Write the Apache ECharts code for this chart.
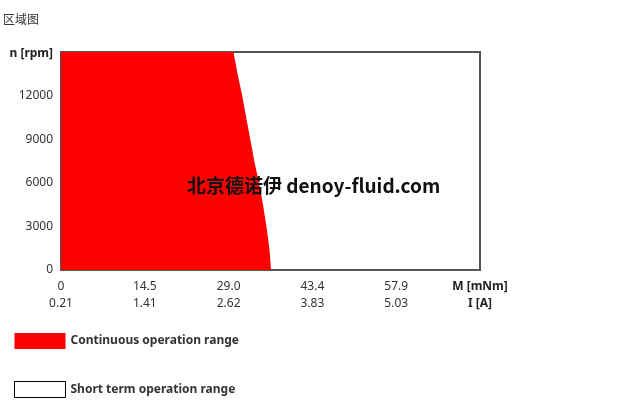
<!DOCTYPE html>
<html>
<head>
<meta charset="utf-8">
<script src="https://cdn.jsdelivr.net/npm/echarts@6/dist/echarts.min.js"></script>
<style>html,body{margin:0;padding:0;background:#fff}#c{width:627px;height:410px}</style>
</head>
<body>
<div id="c"></div>
<script>
// Data
var torqueTicks = ["0", "14.5", "29.0", "43.4", "57.9", "M [mNm]"];
var currentTicks = ["0.21", "1.41", "2.62", "3.83", "5.03", "I [A]"];
var speedTicks = ["0", "3000", "6000", "9000", "12000", "n [rpm]"];
// Continuous operation boundary: torque (mNm) vs speed (rpm)
var contTorque = [0, 29.8, 30.5, 31.3, 32.0, 32.7, 33.4, 34.2, 34.9, 35.5, 36.0, 36.3];
var contSpeed  = [15000, 15000, 13500, 12000, 10500, 9000, 7500, 6000, 4500, 3000, 1500, 0];
var seriesNames = ["Continuous operation range", "Short term operation range"];

var contData = contTorque.map(function (m, i) { return [m, contSpeed[i]]; });
var FONT = '"Noto Sans", "Noto Sans CJK SC", sans-serif';

var chart = echarts.init(document.getElementById('c'));
chart.setOption({
  animation: false,
  title: {
    text: '区域图', left: 3, top: 15, padding: 0,
    textStyle: { fontSize: 12, fontWeight: 'normal', color: '#333', fontFamily: FONT }
  },
  grid: {
    left: 61, right: 147, top: 52, bottom: 140,
    show: true, borderColor: '#555', borderWidth: 2, backgroundColor: '#fff'
  },
  xAxis: {
    type: 'value', min: 0, max: 72.4, interval: 14.48,
    splitLine: { show: false },
    axisLine: { show: false }, axisTick: { show: false },
    axisLabel: {
      showMaxLabel: true, showMinLabel: true, margin: 8,
      fontFamily: FONT, fontSize: 12, color: '#333', lineHeight: 17,
      formatter: function (v, i) {
        if (i === torqueTicks.length - 1) return '{b|' + torqueTicks[i] + '}\n{b|' + currentTicks[i] + '}';
        return torqueTicks[i] + '\n' + currentTicks[i];
      },
      rich: { b: { fontWeight: 'bold', fontSize: 12, color: '#222', fontFamily: FONT, lineHeight: 17 } }
    }
  },
  yAxis: {
    type: 'value', min: 0, max: 15000, interval: 3000,
    splitLine: { show: false },
    axisLine: { show: false }, axisTick: { show: false },
    axisLabel: {
      showMaxLabel: true, margin: 8,
      fontFamily: FONT, fontSize: 12, color: '#333',
      formatter: function (v, i) {
        if (i === speedTicks.length - 1) return '{b|' + speedTicks[i] + '}';
        return speedTicks[i];
      },
      rich: { b: { fontWeight: 'bold', fontSize: 12, color: '#222', fontFamily: FONT, padding: [4, 0, 0, 0] } }
    }
  },
  legend: {
    orient: 'vertical', left: 14, top: 333, icon: 'rect',
    itemWidth: 51, itemHeight: 16, itemGap: 32, padding: 0,
    selectedMode: false,
    textStyle: { fontFamily: FONT, fontSize: 12, fontWeight: 'bold', color: '#333' },
    data: [
      { name: seriesNames[0], itemStyle: { color: '#ff0000', borderWidth: 0 } },
      { name: seriesNames[1], itemStyle: { color: '#ffffff', borderColor: '#000', borderWidth: 1 } }
    ]
  },
  graphic: [{
    type: 'text', left: 187, top: 176, z: 100,
    style: { text: '北京德诺伊 denoy-fluid.com', fontSize: 19, fontWeight: 'bold', fill: '#111',
             fontFamily: '"Noto Sans CJK SC", "Noto Sans", sans-serif' }
  }],
  series: [
    {
      name: seriesNames[0], type: 'line', data: contData, showSymbol: false, symbol: 'none',
      lineStyle: { width: 0, color: '#ff0000' }, areaStyle: { color: '#ff0000', opacity: 1 },
      itemStyle: { color: '#ff0000' }, z: 1
    },
    {
      name: seriesNames[1], type: 'line', data: [], symbol: 'none',
      itemStyle: { color: '#ffffff', borderColor: '#000' }, lineStyle: { width: 0 }
    }
  ]
});
</script>
</body>
</html>
